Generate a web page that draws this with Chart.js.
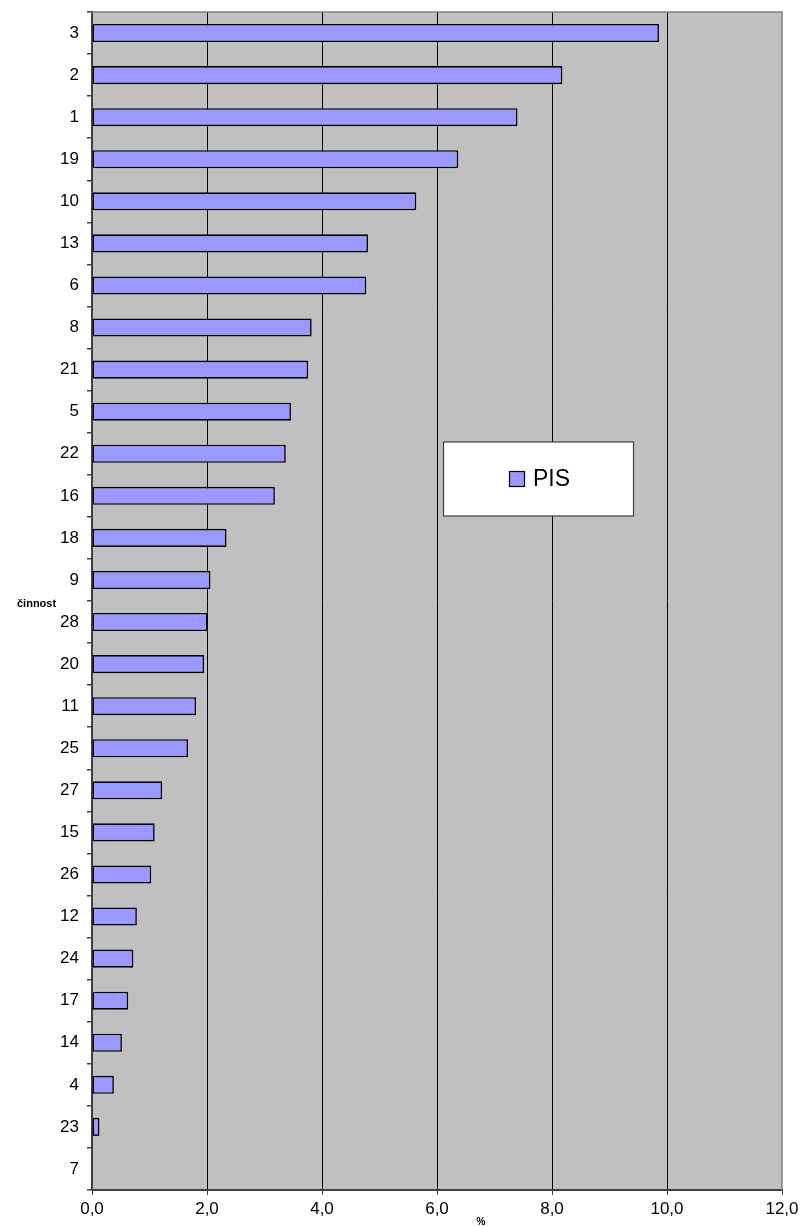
<!DOCTYPE html>
<html>
<head>
<meta charset="utf-8">
<script src="https://cdn.jsdelivr.net/npm/chart.js@4/dist/chart.umd.min.js"></script>
<style>
html,body{margin:0;padding:0;background:#fff;}
#wrap{width:800px;height:1226px;}
</style>
</head>
<body>
<div id="wrap"><canvas id="c" width="800" height="1226"></canvas></div>
<script>
const categories = ["3","2","1","19","10","13","6","8","21","5","22","16","18","9","28","20","11","25","27","15","26","12","24","17","14","4","23","7"];
const pisValues = [9.86,8.18,7.40,6.37,5.64,4.80,4.77,3.82,3.76,3.46,3.37,3.18,2.34,2.06,2.01,1.95,1.81,1.67,1.22,1.09,1.03,0.78,0.72,0.63,0.52,0.38,0.13,0];
const seriesName = "PIS";
const yTitle = "činnost";
const xTitle = "%";

const FONT = "'Liberation Sans', Arial, sans-serif";

const bgPlugin = {
  id: 'bg',
  beforeDraw(chart) {
    const {ctx, chartArea: a} = chart;
    ctx.save();
    ctx.fillStyle = '#c0c0c0';
    ctx.fillRect(a.left, a.top, a.right - a.left, a.bottom - a.top);
    ctx.restore();
  },
  beforeDatasetsDraw(chart) {
    const {ctx, chartArea: a} = chart;
    ctx.save();
    ctx.strokeStyle = '#808080';
    ctx.lineWidth = 1.5;
    ctx.beginPath();
    ctx.moveTo(a.left, a.top);
    ctx.lineTo(a.right, a.top);
    ctx.lineTo(a.right, a.bottom);
    ctx.stroke();
    ctx.restore();
  },
  afterDraw(chart) {
    const {ctx} = chart;
    ctx.save();
    ctx.fillStyle = '#000';
    ctx.font = "bold 11px " + FONT;
    ctx.textAlign = 'left';
    ctx.textBaseline = 'middle';
    ctx.fillText(yTitle, 17, 604);
    ctx.font = "bold 10px " + FONT;
    ctx.textAlign = 'center';
    ctx.textBaseline = 'alphabetic';
    ctx.fillText(xTitle, 481, 1225);
    const ds = chart.data.datasets[0];
    ctx.fillStyle = '#ffffff';
    ctx.fillRect(443.5, 442, 190, 74);
    ctx.strokeStyle = '#404040';
    ctx.lineWidth = 1.2;
    ctx.strokeRect(443.5, 442, 190, 74);
    ctx.fillStyle = ds.backgroundColor;
    ctx.fillRect(509.5, 471.5, 15, 15);
    ctx.strokeStyle = '#000';
    ctx.lineWidth = 1.2;
    ctx.strokeRect(509.5, 471.5, 15, 15);
    ctx.fillStyle = '#000';
    ctx.font = "23px " + FONT;
    ctx.textAlign = 'left';
    ctx.textBaseline = 'middle';
    ctx.fillText(ds.label, 533, 480);
    ctx.restore();
  }
};

new Chart(document.getElementById('c'), {
  type: 'bar',
  data: {
    labels: categories,
    datasets: [{
      label: seriesName,
      data: pisValues,
      backgroundColor: '#9999ff',
      borderColor: '#000000',
      borderWidth: 1.6,
      borderSkipped: false,
      barPercentage: 0.43,
      categoryPercentage: 1.0
    }]
  },
  options: {
    indexAxis: 'y',
    responsive: false,
    animation: false,
    devicePixelRatio: 1,
    layout: { padding: { top: 12, right: 18, left: 0, bottom: 0 } },
    plugins: {
      legend: { display: false },
      tooltip: { enabled: false },
      title: { display: false }
    },
    scales: {
      x: {
        type: 'linear',
        min: 0,
        max: 12,
        afterFit(scale) { scale.height = 36; scale.paddingLeft = 0; scale.paddingRight = 0; },
        ticks: {
          stepSize: 2,
          color: '#000',
          font: { family: FONT, size: 17 },
          padding: 4,
          maxRotation: 0,
          callback: (v) => Number(v).toFixed(1).replace('.', ',')
        },
        grid: {
          color: (c) => (c.tick && (c.tick.value === 0 || c.tick.value === 12)) ? 'rgba(0,0,0,0)' : '#000000',
          tickColor: '#404040',
          lineWidth: 1,
          tickLength: 5,
          drawTicks: true
        },
        border: { display: true, color: '#404040', width: 2 }
      },
      y: {
        type: 'category',
        afterFit(scale) { scale.width = 92; scale.paddingTop = 0; scale.paddingBottom = 0; },
        ticks: {
          color: '#000',
          font: { family: FONT, size: 17 },
          padding: 8,
          autoSkip: false
        },
        grid: {
          offset: true,
          drawOnChartArea: false,
          drawTicks: true,
          tickLength: 5,
          tickColor: '#404040',
          lineWidth: 1.5
        },
        border: { display: true, color: '#404040', width: 2 }
      }
    }
  },
  plugins: [bgPlugin]
});
</script>
</body>
</html>
